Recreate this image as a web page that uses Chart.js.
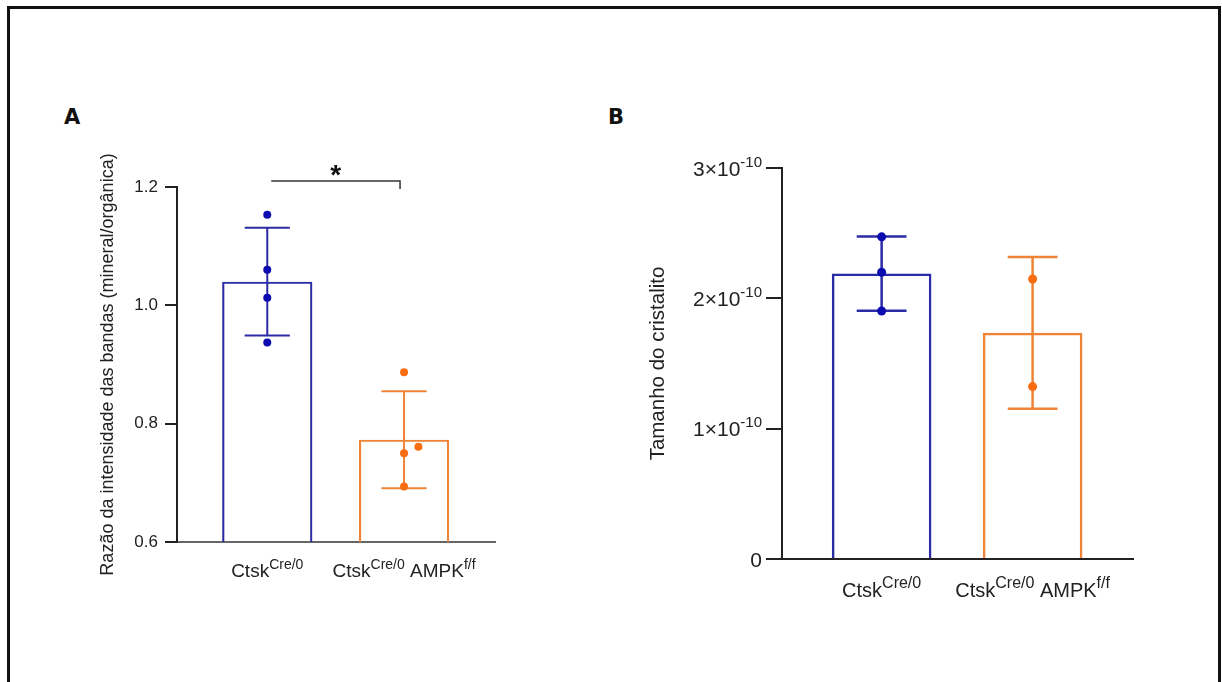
<!DOCTYPE html>
<html>
<head>
<meta charset="utf-8">
<script src="https://cdn.jsdelivr.net/npm/chart.js@4.4.1/dist/chart.umd.min.js"></script>
<style>
    html, body { margin: 0; padding: 0; background: #fff; overflow: hidden; }
    body { width: 1222px; height: 682px; position: relative; }
    #frame {
        position: absolute; left: 7px; top: 6px;
        width: 1208px; height: 700px;
        border: 3px solid #111;
    }
    .panel-label {
        position: absolute;
        font: bold 21px "DejaVu Sans", "Liberation Sans", Arial, sans-serif;
        color: #111;
        line-height: 1;
    }
    canvas { position: absolute; top: 0; }
</style>
</head>
<body>
<div id="frame"></div>
<div class="panel-label" style="left:64px; top:107px;">A</div>
<div class="panel-label" style="left:608px; top:107px;">B</div>
<canvas id="chartA" width="560" height="682" style="left:0;"></canvas>
<canvas id="chartB" width="662" height="682" style="left:560px;"></canvas>

<script>
/*
 * Two bar + dot panels (mean ± SD with individual points).
 * A: band intensity ratio, B: crystallite size.
 */

// ---- data ----
const categories = ['Ctsk^{Cre/0}', 'Ctsk^{Cre/0} AMPK^{f/f}'];

const meansA = [1.04, 0.773];
const sdA = [0.091, 0.082];
const pointsA_ctrl = [1.153, 1.060, 1.013, 0.937];
const pointsA_ko = [0.887, 0.761, 0.750, 0.694];
const ticksA = [0.6, 0.8, 1.0, 1.2];
const sigA = { from: 0, to: 1, y: 1.21, text: '*' };

const meansB = [2.19e-10, 1.735e-10];
const sdB = [0.285e-10, 0.583e-10];
const pointsB_ctrl = [2.472e-10, 2.20e-10, 1.903e-10];
const pointsB_ko = [2.148e-10, 1.323e-10];
const ticksB = [0, 1e-10, 2e-10, 3e-10];

// ---- styles ----
const FONT = '"Liberation Sans", Arial, sans-serif';
const TEXT = '#222';
const BAR_COLORS = ['#2b2ba6', '#ef8436'];
const POINT_COLORS = ['#0b0bb0', '#f86d12'];

/**
 * Splits 'Ctsk^{Cre/0}' into plain and superscript parts.
 */
function parseRich(str) {
    const parts = [];
    const re = /\^\{([^}]*)\}/g;
    let last = 0, m;
    while ((m = re.exec(str)) !== null) {
        if (m.index > last) parts.push({ text: str.slice(last, m.index), sup: false });
        parts.push({ text: m[1], sup: true });
        last = re.lastIndex;
    }
    if (last < str.length) parts.push({ text: str.slice(last), sup: false });
    return parts;
}

/**
 * Draws text with superscripts at a baseline.
 */
function drawRich(ctx, str, x, y, size, supSize, align) {
    const parts = parseRich(str);
    const fontOf = p => `${p.sup ? supSize : size}px ${FONT}`;
    let total = 0;
    parts.forEach(p => { ctx.font = fontOf(p); p.w = ctx.measureText(p.text).width; total += p.w; });
    let cx = align === 'center' ? x - total / 2 : align === 'right' ? x - total : x;
    ctx.textAlign = 'left';
    ctx.textBaseline = 'alphabetic';
    parts.forEach(p => {
        ctx.font = fontOf(p);
        ctx.fillText(p.text, cx, p.sup ? y - size * 0.42 : y);
        cx += p.w;
    });
}

/**
 * Places points of one group; a point that nearly overlaps a lower one is nudged right.
 */
function groupPoints(values, index, range) {
    const sorted = [...values].sort((a, b) => a - b);
    return sorted.map((v, k) => {
        const close = k > 0 && (v - sorted[k - 1]) < range * 0.03;
        return { x: index + (close ? 0.105 : 0), y: v };
    });
}

function errorBarPlugin(means, sds, lineWidth) {
    return {
        id: 'errorBars',
        afterDatasetDraw(chart, args) {
            if (args.index !== 0) return;
            const { ctx } = chart;
            const y = chart.scales.y;
            args.meta.data.forEach((bar, i) => {
                const top = y.getPixelForValue(means[i] + sds[i]);
                const bottom = y.getPixelForValue(means[i] - sds[i]);
                const half = bar.width * 0.25;
                ctx.save();
                ctx.strokeStyle = BAR_COLORS[i];
                ctx.lineWidth = lineWidth;
                ctx.beginPath();
                ctx.moveTo(bar.x, top); ctx.lineTo(bar.x, bottom);
                ctx.moveTo(bar.x - half, top); ctx.lineTo(bar.x + half, top);
                ctx.moveTo(bar.x - half, bottom); ctx.lineTo(bar.x + half, bottom);
                ctx.stroke();
                ctx.restore();
            });
        }
    };
}

function xLabelPlugin(size, supSize, offset) {
    return {
        id: 'xLabels',
        afterDraw(chart) {
            const { ctx, chartArea } = chart;
            const x = chart.scales.x;
            ctx.save();
            ctx.fillStyle = TEXT;
            categories.forEach((c, i) => {
                drawRich(ctx, c, x.getPixelForValue(i), chartArea.bottom + offset, size, supSize, 'center');
            });
            ctx.restore();
        }
    };
}

const sigPlugin = {
    id: 'significance',
    afterDraw(chart) {
        const { ctx } = chart;
        const x = chart.scales.x, y = chart.scales.y;
        const x0 = x.getPixelForValue(sigA.from);
        const x1 = x.getPixelForValue(sigA.to);
        const yy = y.getPixelForValue(sigA.y);
        ctx.save();
        ctx.strokeStyle = '#333';
        ctx.lineWidth = 1.5;
        ctx.beginPath();
        ctx.moveTo(x0 + 4, yy); ctx.lineTo(x1 - 4, yy); ctx.lineTo(x1 - 4, yy + 8);
        ctx.stroke();
        ctx.font = `bold 28px ${FONT}`;
        ctx.fillStyle = '#111';
        ctx.textAlign = 'center';
        ctx.textBaseline = 'alphabetic';
        const m = ctx.measureText(sigA.text);
        const center = yy - 11;
        ctx.fillText(sigA.text, (x0 + x1) / 2, center + (m.actualBoundingBoxAscent - m.actualBoundingBoxDescent) / 2);
        ctx.restore();
    }
};

// y tick labels with superscript exponent (panel B)
const sciTickPlugin = {
    id: 'sciTicks',
    afterDraw(chart) {
        const { ctx } = chart;
        const y = chart.scales.y;
        ctx.save();
        ctx.fillStyle = TEXT;
        y.ticks.forEach(t => {
            const n = Math.round(t.value / 1e-10);
            const label = n === 0 ? '0' : `${n}×10^{-10}`;
            drawRich(ctx, label, y.right - 20, y.getPixelForValue(t.value) + 7.5, 21, 15, 'right');
        });
        ctx.restore();
    }
};

function makeChart(id, cfg) {
    const range = cfg.ticks[cfg.ticks.length - 1] - cfg.ticks[0];
    const points = [
        ...groupPoints(cfg.ctrl, 0, range),
        ...groupPoints(cfg.ko, 1, range)
    ];
    const pointColors = [
        ...cfg.ctrl.map(() => POINT_COLORS[0]),
        ...cfg.ko.map(() => POINT_COLORS[1])
    ];

    return new Chart(document.getElementById(id), {
        type: 'bar',
        data: {
            datasets: [{
                data: cfg.means.map((m, i) => ({ x: i, y: m })),
                backgroundColor: 'rgba(255,255,255,0)',
                borderColor: BAR_COLORS,
                borderWidth: cfg.lineWidth,
                borderSkipped: 'bottom',
                barPercentage: 0.66,
                categoryPercentage: 1,
                order: 1
            }, {
                type: 'scatter',
                data: points,
                pointRadius: cfg.pointRadius,
                pointBackgroundColor: pointColors,
                pointBorderWidth: 0,
                order: 0
            }]
        },
        options: {
            responsive: false,
            animation: false,
            layout: { padding: cfg.padding },
            plugins: { legend: { display: false }, tooltip: { enabled: false } },
            scales: {
                x: {
                    type: 'linear',
                    offset: false,
                    min: -0.66,
                    max: 1.665,
                    afterBuildTicks: s => { s.ticks = categories.map((_, i) => ({ value: i })); },
                    afterFit: s => { s.height = 30; },
                    ticks: { display: false },
                    grid: { display: true, drawOnChartArea: false, drawTicks: false },
                    border: { display: true, color: cfg.xAxisColor, width: 2 }
                },
                y: {
                    min: cfg.ticks[0],
                    max: cfg.ticks[cfg.ticks.length - 1],
                    afterBuildTicks: s => { s.ticks = cfg.ticks.map(v => ({ value: v })); },
                    afterFit: s => { s.width = cfg.yWidth; },
                    ticks: {
                        padding: cfg.tickPadding,
                        color: TEXT,
                        font: { family: FONT, size: 17 },
                        callback: cfg.tickCallback
                    },
                    grid: { drawOnChartArea: false, tickLength: cfg.tickLength, color: '#222', lineWidth: 2 },
                    border: { display: true, color: '#222', width: 2 },
                    title: {
                        display: true,
                        text: cfg.title,
                        color: TEXT,
                        font: { family: FONT, size: cfg.titleSize },
                        padding: { top: 2, bottom: 0 }
                    }
                }
            }
        },
        plugins: cfg.plugins
    });
}

function initCharts() {
    makeChart('chartA', {
        means: meansA, ctrl: pointsA_ctrl, ko: pointsA_ko, ticks: ticksA,
        title: 'Razão da intensidade das bandas (mineral/orgânica)',
        titleSize: 18,
        padding: { left: 95, top: 187, right: 65, bottom: 110 },
        yWidth: 82, tickLength: 12, tickPadding: 7,
        tickCallback: v => v.toFixed(1),
        xAxisColor: '#666',
        lineWidth: 2.2, pointRadius: 4,
        plugins: [errorBarPlugin(meansA, sdA, 2), xLabelPlugin(19, 14, 35), sigPlugin]
    });

    makeChart('chartB', {
        means: meansB, ctrl: pointsB_ctrl, ko: pointsB_ko, ticks: ticksB,
        title: 'Tamanho do cristalito',
        titleSize: 20.5,
        padding: { left: 84, top: 168, right: 89, bottom: 93 },
        yWidth: 138, tickLength: 16, tickPadding: 4,
        tickCallback: () => '',
        xAxisColor: '#222',
        lineWidth: 2.5, pointRadius: 4.5,
        plugins: [errorBarPlugin(meansB, sdB, 2.5), xLabelPlugin(20, 16, 37.5), sciTickPlugin]
    });
}

document.addEventListener('DOMContentLoaded', initCharts);
</script>
</body>
</html>
